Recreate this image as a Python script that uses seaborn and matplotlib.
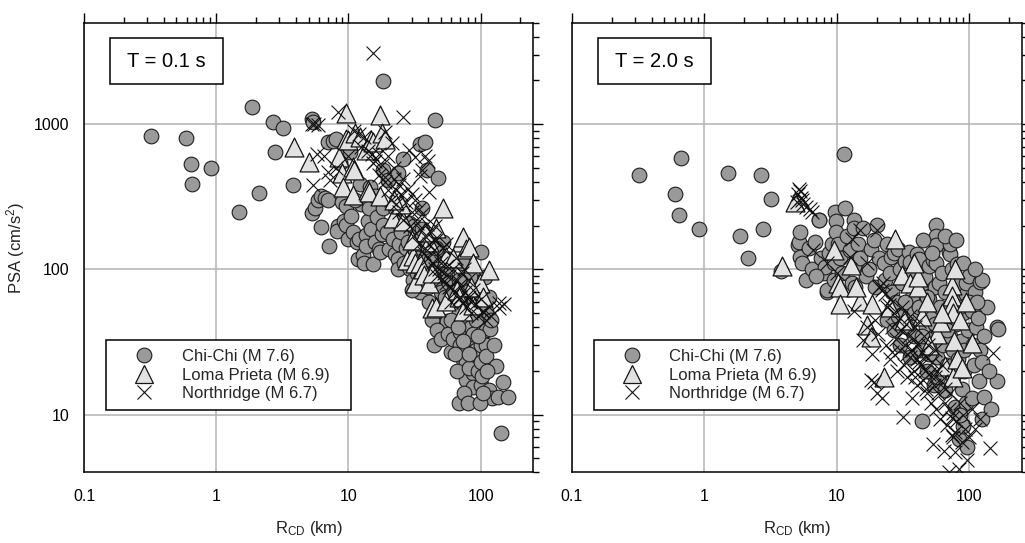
import matplotlib
matplotlib.use("Agg")
import matplotlib.pyplot as plt
import matplotlib.ticker as mticker
from matplotlib.lines import Line2D
from matplotlib.patches import Rectangle
import pandas as pd
import seaborn as sns

# ---------------------------------------------------------------------------
# Recordings: (closest distance R_CD in km, pseudo-spectral acceleration cm/s^2)
# ---------------------------------------------------------------------------
chichi_t01 = [
    (0.32, 830), (0.59, 808), (0.64, 533), (0.66, 390), (0.91, 496), (1.49, 250),
    (1.85, 1320), (2.12, 335), (2.70, 1028), (2.78, 645), (3.17, 936), (3.82, 383),
    (5.3, 1080), (5.4, 1040), (18.3, 1973), (44.9, 1074), (143, 7.5),
    (5.3, 243), (5.6, 265), (5.9, 300), (6.2, 320), (6.2, 195), (6.6, 310), (7.0, 300),
    (7.1, 144), (7.0, 752), (7.7, 760), (8.1, 795), (8.3, 200), (8.2, 184), (8.6, 542),
    (8.9, 290), (9.2, 215), (9.6, 203), (9.6, 273), (9.9, 163), (10.2, 640),
    (10.5, 232), (10.8, 180), (11.5, 154), (11.8, 117), (12.1, 162), (12.2, 390),
    (12.8, 125), (13.2, 111), (13.6, 172), (13.6, 145), (14.0, 214), (14.5, 370),
    (14.8, 190), (15.2, 108), (15.8, 154), (12.5, 280), (11.2, 300), (14.2, 265),
    (16.5, 230), (17.0, 138), (17.2, 131), (17.8, 175), (18.3, 202), (18.3, 266),
    (18.3, 486), (19.4, 180), (20.0, 410), (20.4, 138), (21.6, 162), (22.3, 127),
    (22.3, 266), (23.6, 117), (23.6, 460), (23.6, 100), (24.5, 213), (24.0, 150),
    (25.0, 180), (16.0, 320),
    (26.0, 572), (26.5, 111), (27.0, 140), (28.0, 154), (29.0, 100), (30.5, 124),
    (31.0, 85), (32.0, 160), (33.0, 95), (34.5, 70), (34.5, 730), (35.8, 266),
    (36.5, 105), (37.0, 130), (37.8, 752), (38.0, 85), (39.0, 486), (39.5, 154),
    (40.0, 76), (28.5, 210), (31.5, 200), (36.0, 190), (33.5, 120), (30.0, 72),
    (42.0, 116), (44.0, 80), (44.0, 30), (45.0, 52), (46.0, 100), (47.5, 424),
    (48.5, 58), (50.0, 70), (52.0, 154), (52.0, 42), (53.5, 64), (55.5, 44),
    (55.5, 94), (58.0, 80), (59.6, 27), (41.0, 60), (43.0, 45), (47.0, 38),
    (50.0, 33), (57.0, 36), (54.0, 120), (46.0, 140), (42.0, 90),
    (62.0, 33), (65.0, 61), (68.0, 50), (69.0, 12), (70.0, 37), (70.0, 30),
    (72.0, 45), (73.0, 110), (73.0, 24), (76.0, 70), (78.0, 23), (78.0, 17.3),
    (78.0, 46), (80.0, 55), (83.0, 89), (83.0, 33), (85.0, 40), (87.0, 27),
    (87.0, 19.4), (87.0, 15.5), (64.0, 26), (66.0, 20), (75.0, 14), (80.0, 12),
    (82.0, 21), (89.0, 62), (68.0, 85), (62.0, 70), (88.0, 36), (60.0, 45),
    (74.0, 32), (92.0, 28), (67.0, 40), (81.0, 26),
    (92.0, 45), (95.0, 20), (100.0, 131), (100.0, 30), (100.0, 23), (100.0, 16),
    (102.0, 18.3), (104.0, 61), (104.0, 37), (107.0, 89), (110.0, 38), (110.0, 30),
    (110.0, 25.5), (110.0, 52), (116.0, 14.7), (117.0, 39), (121.0, 13), (125.0, 30),
    (130.0, 21.5), (136.0, 13.2), (147.0, 16.8), (160.0, 13.2), (95.0, 70),
    (115.0, 65), (120.0, 45), (98.0, 12), (105.0, 14), (112.0, 20), (96.0, 35),
]

loma_t01 = [
    (3.85, 691), (5.0, 550), (8.5, 595), (9.0, 458), (9.1, 370), (9.6, 1185),
    (9.6, 795), (9.84, 776), (10.8, 508), (10.8, 324), (11.1, 486), (11.2, 866),
    (12.2, 817), (13.5, 662), (14.0, 350), (14.4, 342), (14.8, 776), (15.3, 752),
    (17.2, 322), (17.3, 1153), (18.0, 866), (19.0, 795), (21.6, 226), (26.0, 214),
    (27.5, 116), (30.5, 124), (32.0, 110), (32.0, 80), (34.5, 111), (36.7, 100),
    (37.0, 92), (41.0, 154), (41.0, 80), (43.0, 94), (43.0, 54), (46.0, 55),
    (46.0, 192), (52.0, 266), (55.0, 122), (55.0, 61), (66.0, 72), (69.0, 65),
    (71.5, 154), (73.0, 168), (73.0, 52), (78.0, 138), (82.0, 143), (87.0, 110),
    (87.0, 57), (98.0, 80), (116.0, 99), (25.0, 280), (22.0, 300), (38.0, 180),
    (62.0, 120), (85.0, 75), (105.0, 65), (30.0, 160),
]

northridge_t01 = [
    (15.2, 3070), (26.0, 1123), (8.3, 1215), (5.3, 1000), (5.5, 1010), (5.9, 980),
    (5.4, 380), (7.2, 412), (5.8, 628), (138, 59), (150, 58), (138, 54), (104, 51),
    (6.5, 600), (7.0, 470), (8.0, 500), (10.0, 600), (11.0, 900), (12.0, 862),
    (12.5, 700), (13.0, 820), (14.0, 650), (15.0, 620), (15.3, 536), (17.0, 628),
    (19.0, 885), (21.5, 736), (19.0, 433), (23.0, 350), (28.8, 662), (32.0, 595),
    (36.0, 482), (41.0, 342), (37.6, 605), (40.0, 560), (35.0, 440),
    (16.0, 560), (17.0, 450), (18.0, 520), (19.0, 400), (20.0, 350), (20.0, 600),
    (21.0, 300), (22.0, 420), (22.0, 500), (23.0, 280), (24.0, 380), (24.0, 250),
    (25.0, 330), (26.0, 220), (27.0, 290), (28.0, 360), (29.0, 200), (30.0, 250),
    (31.0, 170), (32.0, 300), (33.0, 210), (34.0, 150), (35.0, 190), (36.0, 240),
    (37.0, 130), (38.0, 170), (39.0, 205), (40.0, 120), (41.0, 150), (42.0, 180),
    (43.0, 110), (44.0, 135), (45.0, 100), (46.0, 160), (47.0, 90), (48.0, 120),
    (50.0, 85), (50.0, 110), (52.0, 140), (53.0, 95), (55.0, 80), (56.0, 105),
    (58.0, 90), (60.0, 75), (62.0, 100), (64.0, 70), (66.0, 85), (68.0, 62),
    (70.0, 78), (72.0, 95), (74.0, 60), (76.0, 70), (78.0, 55), (80.0, 85),
    (82.0, 65), (85.0, 50), (88.0, 72), (90.0, 58), (95.0, 48), (100.0, 62),
    (105.0, 52), (110.0, 45), (115.0, 55), (120.0, 48), (26.0, 420), (30.0, 330),
    (34.0, 260), (45.0, 200), (55.0, 150), (65.0, 120), (75.0, 100), (60.0, 60),
    (38.0, 140), (48.0, 100), (58.0, 75), (70.0, 65), (84.0, 60), (44.0, 160),
]

chichi_t20 = [
    (0.32, 445), (0.60, 331), (0.67, 585), (0.64, 235), (0.92, 189), (1.52, 462),
    (1.87, 171), (2.15, 119), (2.70, 448), (2.78, 191), (3.17, 304), (3.78, 98),
    (11.3, 626), (163, 40), (163, 16.9), (55.7, 202), (55.7, 169),
    (5.1, 147), (5.2, 154), (5.3, 181), (5.3, 122), (5.5, 110), (5.9, 84),
    (6.2, 140), (6.5, 100), (6.9, 155), (7.3, 219), (7.4, 218), (7.6, 120),
    (8.0, 95), (8.2, 104), (8.4, 70), (8.5, 72), (8.8, 130), (9.2, 150), (9.5, 85),
    (9.7, 249), (9.8, 214), (9.9, 180), (9.5, 110), (7.0, 90),
    (10.2, 150), (10.5, 120), (11.0, 95), (11.6, 266), (12.0, 170), (12.5, 135),
    (13.0, 80), (13.4, 219), (13.4, 192), (13.4, 105), (13.8, 76), (14.5, 150),
    (15.0, 120), (15.8, 192), (16.5, 90), (17.4, 100), (18.1, 138), (19.0, 160),
    (20.0, 202), (19.5, 75),
    (21.0, 120), (22.6, 111), (23.0, 85), (24.0, 150), (25.0, 95), (25.5, 122),
    (26.0, 70), (27.0, 130), (28.0, 60), (29.0, 138), (30.0, 100), (31.0, 80),
    (32.0, 50), (33.0, 115), (34.0, 40), (35.0, 131), (36.0, 90), (36.0, 113),
    (37.0, 65), (38.0, 35), (39.0, 75), (40.0, 128), (24.0, 45), (30.0, 30),
    (36.0, 25), (27.0, 38), (33.0, 60), (29.0, 48), (38.0, 50),
    (41.6, 117), (42.0, 55), (43.0, 28), (44.0, 9.0), (45.0, 80), (46.6, 89),
    (47.0, 40), (48.0, 20), (50.0, 62), (50.0, 105), (52.0, 33), (53.0, 48),
    (53.5, 116), (54.0, 16), (55.0, 75), (56.0, 111), (56.0, 146), (57.0, 25),
    (58.0, 38), (59.0, 80), (60.0, 55), (45.0, 160), (52.0, 130), (48.0, 65),
    (58.0, 18), (44.0, 35), (50.0, 26), (55.0, 42),
    (62.0, 95), (63.0, 30), (64.0, 45), (66.0, 14.8), (66.0, 70), (68.0, 22),
    (70.0, 131), (70.0, 55), (72.0, 35), (72.0, 128), (74.0, 100), (75.0, 18),
    (76.0, 28), (78.0, 11.2), (78.0, 60), (80.0, 42), (81.0, 108), (82.0, 24),
    (83.0, 6.8), (85.0, 80), (86.0, 32), (88.0, 15), (89.0, 8.3), (90.0, 50),
    (92.0, 20), (94.0, 68), (95.0, 80), (96.0, 6.0), (98.0, 38), (95.0, 12),
    (85.0, 10), (72.0, 150), (65.0, 170), (90.0, 110), (100.0, 90), (80.0, 160),
    (68.0, 38), (84.0, 55), (92.0, 28), (76.0, 20),
    (104.0, 52), (104.0, 13), (106.0, 30), (108.0, 22), (110.0, 70), (112.0, 40),
    (117.0, 46), (118.0, 17), (120.0, 28), (120.0, 82), (124.0, 23), (124.0, 9.3),
    (125.0, 85), (128.0, 35), (130.0, 13.3), (135.0, 55), (140.0, 20),
    (145.0, 10.9), (110.0, 100), (166.0, 39), (100.0, 60), (115.0, 60),
]

loma_t20 = [
    (3.86, 105), (4.82, 293), (9.5, 136), (10.2, 80), (10.6, 76), (10.6, 58),
    (12.7, 107), (15.0, 61), (16.9, 41.5), (18.2, 34), (18.3, 58), (22.6, 18.2),
    (27.7, 163), (31.0, 91), (36.0, 80), (41.0, 76), (41.0, 89), (44.0, 48),
    (57.0, 36), (61.0, 43.5), (66.0, 21.5), (74.0, 78), (74.0, 66), (74.0, 57),
    (75.0, 50), (75.0, 18), (77.0, 32), (78.0, 101), (81.0, 24), (88.0, 21),
    (104.0, 31), (14.0, 75), (25.0, 55), (32.0, 45), (48.0, 60), (62.0, 50),
    (85.0, 45), (95.0, 60), (50.0, 30), (38.0, 110),
]

northridge_t20 = [
    (5.0, 290), (5.1, 330), (5.17, 360), (5.3, 345), (5.4, 310), (5.5, 300),
    (5.6, 280), (5.9, 270), (6.3, 260), (6.5, 250),
    (6.6, 136), (8.5, 110), (10.0, 95), (12.6, 122), (13.0, 163), (13.4, 52),
    (15.0, 187), (16.8, 110), (20.0, 187), (20.8, 75),
    (15.8, 32.5), (17.0, 40), (18.0, 17.3), (18.5, 26), (19.5, 45), (20.5, 36),
    (21.3, 77), (21.8, 12.9), (22.0, 72), (22.5, 80), (23.0, 68), (23.5, 30),
    (24.0, 55), (24.6, 57), (25.0, 24), (25.5, 62), (26.0, 40), (27.0, 50),
    (28.0, 33), (28.5, 20), (29.0, 45), (30.0, 28), (30.5, 38), (31.0, 55),
    (31.8, 9.6), (32.0, 22), (33.0, 30), (33.5, 42), (34.0, 18), (35.0, 35),
    (35.5, 25), (36.0, 48), (37.0, 12.9), (37.0, 28), (38.0, 20), (38.5, 33),
    (39.0, 40), (40.0, 24), (40.5, 16), (41.0, 30), (42.0, 44), (43.0, 22),
    (44.0, 27), (45.0, 17.3), (45.5, 35), (46.0, 20), (47.0, 25), (48.0, 14),
    (49.0, 30), (50.0, 19), (51.0, 12), (52.0, 23), (53.0, 6.3), (54.0, 16),
    (55.0, 28), (56.0, 11), (57.0, 20), (58.0, 14), (60.0, 9.3), (61.0, 17),
    (62.0, 22), (64.0, 5.6), (65.0, 12), (66.0, 15), (68.0, 8.5), (70.0, 4.0),
    (70.0, 11), (72.0, 14), (74.0, 7.2), (74.0, 9.5), (76.0, 10.3), (76.0, 7.0),
    (78.0, 5.5), (78.0, 7.6), (80.0, 9), (84.0, 4.2), (85.0, 12), (88.0, 6.5),
    (90.0, 10), (93.0, 8.0), (96.0, 4.9), (100.0, 7), (105.0, 11), (110.0, 8),
    (120.0, 9.3), (144.0, 5.9), (150.0, 26.5), (19.0, 16.8), (20.0, 14),
    (26.0, 27), (42.0, 23), (34.0, 26), (39.0, 18), (47.0, 15), (55.0, 18),
]

event_labels = ["Chi-Chi (M 7.6)", "Loma Prieta (M 6.9)", "Northridge (M 6.7)"]
period_labels = ["T = 0.1 s", "T = 2.0 s"]
x_ticks = [0.1, 1, 10, 100]
y_ticks = [10, 100, 1000]

panels = {
    period_labels[0]: [chichi_t01, loma_t01, northridge_t01],
    period_labels[1]: [chichi_t20, loma_t20, northridge_t20],
}

rows = []
for period, sets in panels.items():
    for event, pts in zip(event_labels, sets):
        for r, psa in pts:
            rows.append({"period": period, "event": event, "R": r, "PSA": psa})
df = pd.DataFrame(rows)

# marker styling per event
styles = {
    event_labels[0]: dict(marker="o", s=112, color="#9a9a9a", edgecolor="#1e1e1e", linewidth=0.8),
    event_labels[1]: dict(marker="^", s=185, color="#e2e2e2", edgecolor="#141414", linewidth=0.9),
    event_labels[2]: dict(marker="x", s=100, color="#111111", linewidth=0.8),
}

sns.set_theme(style="white")
plt.rcParams["font.family"] = ["Liberation Sans", "DejaVu Sans"]
plt.rcParams["mathtext.fontset"] = "custom"
plt.rcParams["mathtext.rm"] = "Liberation Sans"
plt.rcParams["mathtext.it"] = "Liberation Sans:italic"

fig = plt.figure(figsize=(10.25, 5.43), dpi=100)
ax_left = fig.add_axes([0.0820, 0.1302, 0.4383, 0.8280])
ax_right = fig.add_axes([0.5578, 0.1302, 0.4393, 0.8280])

fmt = mticker.FuncFormatter(lambda v, _: f"{v:g}")

for ax, period in zip([ax_left, ax_right], period_labels):
    sub = df[df["period"] == period]
    for z, event in enumerate(event_labels):
        sns.scatterplot(data=sub[sub["event"] == event], x="R", y="PSA", ax=ax,
                        legend=False, zorder=3 + z, **styles[event])
    ax.set_xscale("log")
    ax.set_yscale("log")
    ax.set_xlim(0.1, 250)
    ax.set_ylim(4, 5000)
    ax.xaxis.set_major_locator(mticker.FixedLocator(x_ticks))
    ax.yaxis.set_major_locator(mticker.FixedLocator(y_ticks))
    ax.xaxis.set_minor_locator(mticker.LogLocator(base=10, subs=range(2, 10), numticks=20))
    ax.yaxis.set_minor_locator(mticker.LogLocator(base=10, subs=range(2, 10), numticks=20))
    ax.xaxis.set_major_formatter(fmt)
    ax.yaxis.set_major_formatter(fmt)
    ax.xaxis.set_minor_formatter(mticker.NullFormatter())
    ax.yaxis.set_minor_formatter(mticker.NullFormatter())
    ax.grid(True, which="major", color="#b3b3b3", linewidth=1.1)
    ax.set_axisbelow(True)
    for sp in ax.spines.values():
        sp.set_color("black")
        sp.set_linewidth(1.1)
    ax.tick_params(which="both", direction="out", top=True, right=True,
                   labeltop=False, labelright=False, colors="black",
                   width=1.0, labelsize=11.5)
    ax.tick_params(which="major", length=7)
    ax.tick_params(which="minor", length=4.5)
    ax.tick_params(axis="x", which="major", pad=5)
    ax.tick_params(axis="y", which="major", pad=3.5)

    ax.set_xlabel(r"R$_{\mathrm{CD}}$ (km)", fontsize=12, color="#222222")
    ax.xaxis.set_label_coords(0.5, -0.103)
    ax.set_ylabel("")

    # period tag in the upper-left corner
    ax.add_patch(Rectangle((0.0579, 0.863), 0.2515, 0.1023, transform=ax.transAxes,
                           facecolor="white", edgecolor="black", linewidth=1.1, zorder=8))
    ax.text(0.0579 + 0.2515 / 2, 0.863 + 0.1023 / 2, period, transform=ax.transAxes,
            ha="center", va="center", fontsize=14.5, color="black", zorder=9)

    handles = []
    for event in event_labels:
        st = styles[event]
        if st["marker"] == "x":
            h = Line2D([], [], linestyle="none", marker="x", markersize=st["s"] ** 0.5,
                       color=st["color"], markeredgewidth=st["linewidth"])
        else:
            h = Line2D([], [], linestyle="none", marker=st["marker"],
                       markersize=st["s"] ** 0.5, markerfacecolor=st["color"],
                       markeredgecolor=st["edgecolor"], markeredgewidth=st["linewidth"])
        handles.append(h)
    leg = ax.legend(handles, event_labels, loc="lower left",
                    bbox_to_anchor=(0.049, 0.139, 0.545, 0.186), mode="expand",
                    fontsize=12, frameon=True, fancybox=False, framealpha=1,
                    borderpad=0.53, handlelength=3.5, handletextpad=0.5,
                    labelspacing=0.2, borderaxespad=0)
    leg.get_frame().set_edgecolor("black")
    leg.get_frame().set_linewidth(1.1)
    leg.set_zorder(10)

ax_right.tick_params(axis="y", labelleft=False)
ax_left.set_ylabel(r"PSA (cm/s$^2$)", fontsize=12, color="#222222")
ax_left.yaxis.set_label_coords(-0.128, 0.5)

fig.savefig("out.png", dpi=100, facecolor="white")
